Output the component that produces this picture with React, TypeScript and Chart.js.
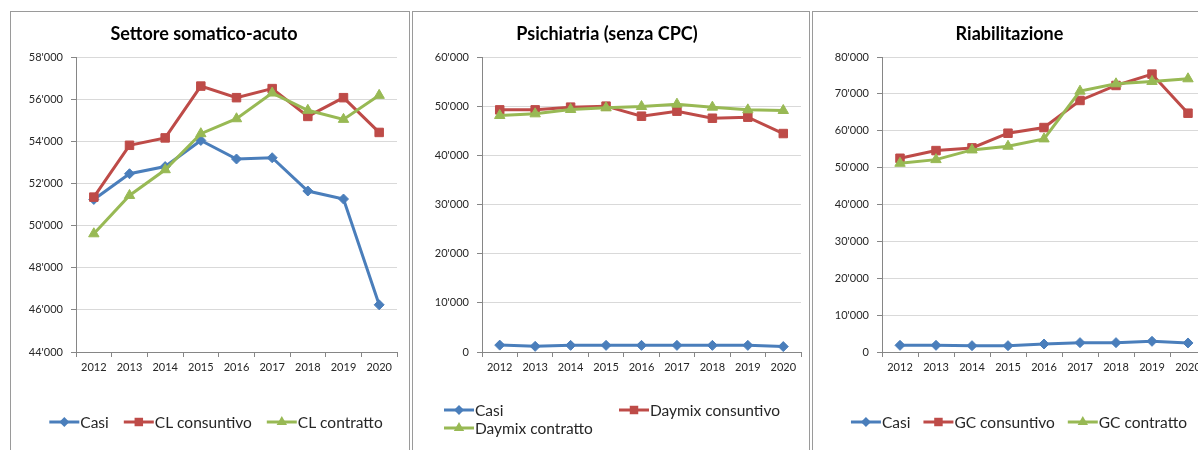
import React, { useEffect, useRef } from 'react';
import { Chart, registerables } from 'chart.js';

Chart.register(...registerables);
Chart.defaults.font.family = 'Lato, "Liberation Sans", sans-serif';

// ---------- DATA ----------
const years = ['2012', '2013', '2014', '2015', '2016', '2017', '2018', '2019', '2020'];

const somaticoCasi = [51240, 52460, 52800, 54040, 53160, 53220, 51640, 51260, 46240];
const somaticoClConsuntivo = [51350, 53810, 54160, 56620, 56070, 56500, 55180, 56070, 54420];
const somaticoClContratto = [49610, 51430, 52650, 54360, 55070, 56290, 55470, 55040, 56180];

const psichCasi = [1400, 1150, 1350, 1350, 1350, 1350, 1350, 1350, 1100];
const psichDaymixConsuntivo = [49250, 49250, 49800, 50000, 47960, 48980, 47550, 47760, 44430];
const psichDaymixContratto = [48100, 48440, 49320, 49660, 49930, 50410, 49800, 49250, 49120];

const riabCasi = [1810, 1810, 1720, 1720, 2170, 2540, 2540, 2900, 2450];
const riabGcConsuntivo = [52540, 54620, 55350, 59330, 60870, 68210, 72280, 75360, 64760];
const riabGcContratto = [51180, 52170, 54800, 55800, 57790, 70740, 72730, 73370, 74090];

const titles = ['Settore somatico-acuto', 'Psichiatria (senza CPC)', 'Riabilitazione'];
const seriesLabels = [
  ['Casi', 'CL consuntivo', 'CL contratto'],
  ['Casi', 'Daymix consuntivo', 'Daymix contratto'],
  ['Casi', 'GC consuntivo', 'GC contratto'],
];

// ---------- STYLE ----------
const BLUE = '#4A7EBB';
const RED = '#BE4B48';
const GREEN = '#98B954';
const AXIS = '#868686';
const GRID = '#d9d9d9';
const TEXT = '#262626';

const fmt = (v: number) => String(Math.round(v)).replace(/\B(?=(\d{3})+(?!\d))/g, "'");

function drawMarker(ctx: CanvasRenderingContext2D, style: string, x: number, y: number, r: number) {
  ctx.beginPath();
  if (style === 'rectRot') {
    ctx.moveTo(x - r, y);
    ctx.lineTo(x, y - r);
    ctx.lineTo(x + r, y);
    ctx.lineTo(x, y + r);
  } else if (style === 'rect') {
    const s = Math.SQRT1_2 * r;
    ctx.rect(x - s, y - s, 2 * s, 2 * s);
  } else {
    let rad = 0;
    ctx.moveTo(x + Math.sin(rad) * r, y - Math.cos(rad) * r);
    rad += (2 * Math.PI) / 3;
    ctx.lineTo(x + Math.sin(rad) * r, y - Math.cos(rad) * r);
    rad += (2 * Math.PI) / 3;
    ctx.lineTo(x + Math.sin(rad) * r, y - Math.cos(rad) * r);
  }
  ctx.closePath();
  ctx.fill();
}

const excelLegend = {
  id: 'excelLegend',
  afterDraw(chart: any, _args: any, opts: any) {
    if (!opts || !opts.enabled) return;
    const ctx: CanvasRenderingContext2D = chart.ctx;
    const items = chart.data.datasets.map((d: any) => ({
      label: d.label,
      color: d.borderColor,
      style: d.pointStyle,
      r: d.pointRadius,
    }));
    ctx.save();
    ctx.font = `${opts.fontSize}px Lato, "Liberation Sans", sans-serif`;
    ctx.textBaseline = 'middle';
    ctx.textAlign = 'left';
    const sw = opts.symbolWidth;
    const gap = opts.textGap;
    const drawItem = (it: any, x: number, y: number) => {
      ctx.strokeStyle = it.color;
      ctx.fillStyle = it.color;
      ctx.lineWidth = 3;
      ctx.beginPath();
      ctx.moveTo(x, y);
      ctx.lineTo(x + sw, y);
      ctx.stroke();
      drawMarker(ctx, it.style, x + sw / 2, y, it.r);
      ctx.fillStyle = opts.color;
      ctx.fillText(it.label, x + sw + gap, y + 1);
    };
    if (opts.mode === 'grid') {
      items.forEach((it: any, i: number) => {
        const col = i % 2;
        const row = Math.floor(i / 2);
        drawItem(it, opts.columns[col], opts.rows[row]);
      });
    } else {
      const widths = items.map((it: any) => sw + gap + ctx.measureText(it.label).width);
      const total = widths.reduce((a: number, b: number) => a + b, 0) + opts.spacing * (items.length - 1);
      let x = (chart.width - total) / 2 + opts.offsetX;
      items.forEach((it: any, i: number) => {
        drawItem(it, x, opts.y);
        x += widths[i] + opts.spacing;
      });
    }
    ctx.restore();
  },
};
Chart.register(excelLegend);

type PanelCfg = {
  left: number;
  width: number;
  title: string;
  labels: string[];
  series: number[][];
  min: number;
  max: number;
  step: number;
  yWidth: number;
  padRight: number;
  legend: any;
};

const panels: PanelCfg[] = [
  {
    left: 10,
    width: 400,
    title: titles[0],
    labels: seriesLabels[0],
    series: [somaticoCasi, somaticoClConsuntivo, somaticoClContratto],
    min: 44000,
    max: 58000,
    step: 2000,
    yWidth: 65,
    padRight: 12,
    legend: { mode: 'row', y: 410, offsetX: 6, spacing: 15 },
  },
  {
    left: 412,
    width: 398,
    title: titles[1],
    labels: seriesLabels[1],
    series: [psichCasi, psichDaymixConsuntivo, psichDaymixContratto],
    min: 0,
    max: 60000,
    step: 10000,
    yWidth: 69,
    padRight: 8,
    legend: { mode: 'grid', columns: [31, 206], rows: [398, 416] },
  },
  {
    left: 812,
    width: 406,
    title: titles[2],
    labels: seriesLabels[2],
    series: [riabCasi, riabGcConsuntivo, riabGcContratto],
    min: 0,
    max: 80000,
    step: 10000,
    yWidth: 69,
    padRight: 11,
    legend: { mode: 'row', y: 410, offsetX: 4, spacing: 13 },
  },
];

const PANEL_TOP = 11;
const PANEL_HEIGHT = 450;

function Panel({ cfg }: { cfg: PanelCfg }) {
  const ref = useRef<HTMLCanvasElement | null>(null);
  const cw = cfg.width - 2;
  const ch = PANEL_HEIGHT - 2;
  useEffect(() => {
    if (!ref.current) return;
    const colors = [BLUE, RED, GREEN];
    const styles = ['rectRot', 'rect', 'triangle'];
    const radii = [5, 6, 6];
    const chart = new Chart(ref.current, {
      type: 'line',
      data: {
        labels: years,
        datasets: cfg.series.map((data, i) => ({
          label: cfg.labels[i],
          data,
          borderColor: colors[i],
          backgroundColor: colors[i],
          borderWidth: 3,
          pointStyle: styles[i],
          pointRadius: radii[i],
          pointBorderWidth: 1,
          pointBorderColor: colors[i],
          pointBackgroundColor: colors[i],
          tension: 0,
          fill: false,
          order: 3 - i,
        })),
      },
      options: {
        responsive: false,
        animation: false,
        devicePixelRatio: 1,
        events: [],
        layout: { padding: { left: 0, right: cfg.padRight, top: 0, bottom: ch - 340 - 30 } },
        plugins: {
          legend: { display: false },
          tooltip: { enabled: false },
          title: {
            display: true,
            text: cfg.title,
            color: '#000',
            font: { size: 18, weight: 'bold' },
            padding: { top: 11.5, bottom: 11.9 },
          },
          excelLegend: {
            enabled: true,
            fontSize: 15.5,
            symbolWidth: 30,
            textGap: 1,
            color: TEXT,
            ...cfg.legend,
          },
        } as any,
        scales: {
          x: {
            offset: true,
            grid: {
              display: true,
              drawOnChartArea: false,
              drawTicks: true,
              tickLength: 5,
              tickColor: AXIS,
              offset: true,
            },
            border: { display: true, color: AXIS, width: 1 },
            ticks: { color: TEXT, font: { size: 11 }, padding: 4, maxRotation: 0, autoSkip: false },
            afterFit: (s: any) => {
              s.height = 30;
            },
          },
          y: {
            min: cfg.min,
            max: cfg.max,
            ticks: {
              stepSize: cfg.step,
              callback: (v: any) => fmt(Number(v)),
              color: TEXT,
              font: { size: 11 },
              padding: 8,
            },
            grid: { color: GRID, drawTicks: true, tickLength: 5, tickColor: AXIS },
            border: { display: true, color: AXIS, width: 1 },
            afterFit: (s: any) => {
              s.width = cfg.yWidth;
            },
          },
        },
      } as any,
    });
    return () => chart.destroy();
  }, [cfg]);
  return (
    <div
      style={{
        position: 'absolute',
        left: cfg.left,
        top: PANEL_TOP,
        width: cfg.width,
        height: PANEL_HEIGHT,
        boxSizing: 'border-box',
        border: '1px solid #9a9a9a',
        background: '#fff',
      }}
    >
      <canvas ref={ref} width={cw} height={ch} style={{ display: 'block', width: cw, height: ch }} />
    </div>
  );
}

export default function App() {
  return (
    <div
      style={{
        position: 'fixed',
        left: 0,
        top: 0,
        width: 1198,
        height: 450,
        overflow: 'hidden',
        background: '#fff',
      }}
    >
      {panels.map((p, i) => (
        <Panel key={i} cfg={p} />
      ))}
    </div>
  );
}
